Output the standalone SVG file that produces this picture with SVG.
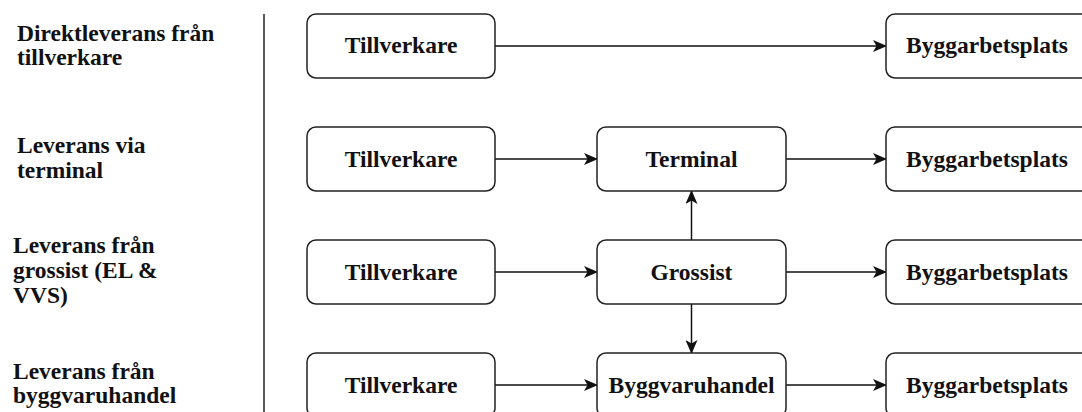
<svg xmlns="http://www.w3.org/2000/svg" width="1082" height="412" viewBox="0 0 1082 412">
  <style>
    .box { fill: #ffffff; stroke: #222222; stroke-width: 1.5; }
    .lbl { font-family: "Liberation Serif", "Times New Roman", serif; font-weight: bold; font-size: 23.5px; fill: #111111; text-anchor: middle; }
    .side { font-family: "Liberation Serif", "Times New Roman", serif; font-weight: bold; font-size: 23.5px; fill: #111111; }
    .edge { fill: none; stroke: #111111; stroke-width: 1.5; }
  </style>
  <defs>
    <marker id="arrow" viewBox="0 0 14 12" refX="13" refY="6" markerWidth="14" markerHeight="12" markerUnits="userSpaceOnUse" orient="auto">
      <path d="M0,0 L14,6 L0,12 L3.5,6 Z" fill="#111111"/>
    </marker>
  </defs>
  <rect width="1082" height="412" fill="#ffffff"/>

  <!-- row labels -->
  <g id="row-labels">
    <text class="side" x="17" y="41">Direktleverans från<tspan x="17" dy="24">tillverkare</tspan></text>
    <text class="side" x="17" y="153">Leverans via<tspan x="17" dy="25">terminal</tspan></text>
    <text class="side" x="13" y="253">Leverans från<tspan x="13" dy="25">grossist (EL &amp;</tspan><tspan x="13" dy="25">VVS)</tspan></text>
    <text class="side" x="13" y="379">Leverans från<tspan x="13" dy="24">byggvaruhandel</tspan></text>
  </g>

  <!-- divider -->
  <line x1="264" y1="14" x2="264" y2="412" stroke="#222222" stroke-width="1.5"/>

  <!-- connectors -->
  <g id="connectors">
    <line class="edge" x1="495" y1="46" x2="886" y2="46" marker-end="url(#arrow)"/>
    <line class="edge" x1="495" y1="159" x2="597" y2="159" marker-end="url(#arrow)"/>
    <line class="edge" x1="786" y1="159" x2="886" y2="159" marker-end="url(#arrow)"/>
    <line class="edge" x1="691.5" y1="240" x2="691.5" y2="191" marker-end="url(#arrow)"/>
    <line class="edge" x1="495" y1="272" x2="597" y2="272" marker-end="url(#arrow)"/>
    <line class="edge" x1="786" y1="272" x2="886" y2="272" marker-end="url(#arrow)"/>
    <line class="edge" x1="691.5" y1="304" x2="691.5" y2="353" marker-end="url(#arrow)"/>
    <line class="edge" x1="495" y1="385" x2="597" y2="385" marker-end="url(#arrow)"/>
    <line class="edge" x1="786" y1="385" x2="886" y2="385" marker-end="url(#arrow)"/>
  </g>

  <!-- row 1 -->
  <g id="tillverkare-1"><rect class="box" x="307" y="14" width="188" height="64" rx="9"/><text class="lbl" x="401" y="53">Tillverkare</text></g>
  <g id="bygg-1"><rect class="box" x="886" y="14" width="204" height="64" rx="9"/><text class="lbl" x="987" y="53">Byggarbetsplats</text></g>

  <!-- row 2 -->
  <g id="tillverkare-2"><rect class="box" x="307" y="127" width="188" height="64" rx="9"/><text class="lbl" x="401" y="167">Tillverkare</text></g>
  <g id="terminal"><rect class="box" x="597" y="127" width="189" height="64" rx="9"/><text class="lbl" x="691.5" y="167">Terminal</text></g>
  <g id="bygg-2"><rect class="box" x="886" y="127" width="204" height="64" rx="9"/><text class="lbl" x="987" y="167">Byggarbetsplats</text></g>

  <!-- row 3 -->
  <g id="tillverkare-3"><rect class="box" x="307" y="240" width="188" height="64" rx="9"/><text class="lbl" x="401" y="280">Tillverkare</text></g>
  <g id="grossist"><rect class="box" x="597" y="240" width="189" height="64" rx="9"/><text class="lbl" x="691.5" y="280">Grossist</text></g>
  <g id="bygg-3"><rect class="box" x="886" y="240" width="204" height="64" rx="9"/><text class="lbl" x="987" y="280">Byggarbetsplats</text></g>

  <!-- row 4 -->
  <g id="tillverkare-4"><rect class="box" x="307" y="353" width="188" height="64" rx="9"/><text class="lbl" x="401" y="393">Tillverkare</text></g>
  <g id="byggvaruhandel"><rect class="box" x="597" y="353" width="189" height="64" rx="9"/><text class="lbl" x="691.5" y="393">Byggvaruhandel</text></g>
  <g id="bygg-4"><rect class="box" x="886" y="353" width="204" height="64" rx="9"/><text class="lbl" x="987" y="393">Byggarbetsplats</text></g>
</svg>
